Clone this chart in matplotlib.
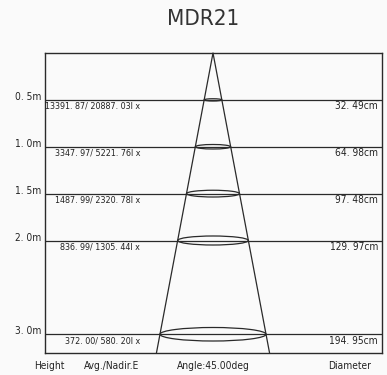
import numpy as np
import matplotlib
matplotlib.use("Agg")
import matplotlib.pyplot as plt
from matplotlib.patches import Ellipse

plt.rcParams['font.family'] = ['DejaVu Sans']
plt.rcParams['font.stretch'] = 'condensed'

title = "MDR21"
heights = [0.5, 1.0, 1.5, 2.0, 3.0]
height_labels = ["0. 5m", "1. 0m", "1. 5m", "2. 0m", "3. 0m"]
avg_lux = ["13391. 87", "3347. 97", "1487. 99", "836. 99", "372. 00"]
nadir_lux = ["20887. 03", "5221. 76", "2320. 78", "1305. 44", "580. 20"]
diameters_cm = [32.49, 64.98, 97.48, 129.97, 194.95]
diameter_labels = ["32. 49cm", "64. 98cm", "97. 48cm", "129. 97cm", "194. 95cm"]
bottom_labels = ["Height", "Avg./Nadir.E", "Angle:45.00deg", "Diameter"]

W, H = 387, 375
fig = plt.figure(figsize=(W / 100, H / 100), dpi=100)
bg = '#fafafa'
fig.patch.set_facecolor(bg)

x0, x1, y0, y1 = 45, 382, 53, 353
ax = fig.add_axes([x0 / W, 1 - y1 / H, (x1 - x0) / W, (y1 - y0) / H])
ax.set_facecolor(bg)

ymax = 3.2
pxm = 54.4
ax.set_ylim(ymax, 0)
ax.set_xlim(-(213 - x0) / pxm, (x1 - 213) / pxm)
ax.set_xticks([])
ax.set_yticks([])
lc = '#2a2a2a'
for s in ax.spines.values():
    s.set_color(lc)
    s.set_linewidth(1.0)

slope = (diameters_cm[-1] / 200) / heights[-1]
half = slope * ymax
ax.plot([-half, 0, half], [ymax, 0, ymax], color=lc, lw=0.9, clip_on=False)

ratio = 0.074
xl = ax.get_xlim()
fs = 7.3
fs_lux = 6.4
for h, hl, a, n, d, dl in zip(heights, height_labels, avg_lux, nadir_lux, diameters_cm, diameter_labels):
    ax.plot(xl, [h, h], color=lc, lw=0.9)
    w = d / 100
    ax.add_patch(Ellipse((0, h), w, w * ratio, fill=False, ec=lc, lw=0.9))
    ax.text(-0.012, h - 0.03, hl, transform=ax.get_yaxis_transform(), ha='right', va='center', fontsize=fs, color='#222')
    ax.text(-1.34, h + 0.07, f"{a}/ {n}l x", ha='right', va='center', fontsize=fs_lux, color='#222')
    ax.text(0.988, h + 0.07, dl, transform=ax.get_yaxis_transform(), ha='right', va='center', fontsize=fs, color='#222')

fig.text(203 / W, 1 - 19 / H, title, ha='center', va='center', fontsize=16, color='#333')

by = 1 - 366 / H
for lab, cx in zip(bottom_labels, [49, 112, 213, 350]):
    fig.text(cx / W, by, lab, ha='center', va='center', fontsize=fs, color='#222')

fig.savefig('out.png', dpi=100, facecolor=bg)
